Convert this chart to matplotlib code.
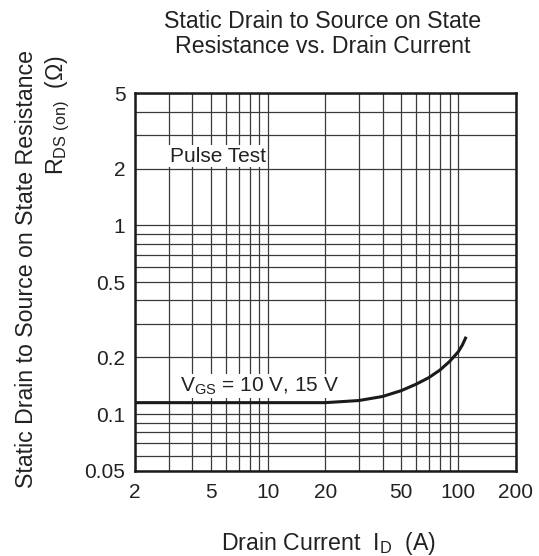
import numpy as np
import matplotlib
matplotlib.use("Agg")
import matplotlib.pyplot as plt
from matplotlib.ticker import FixedLocator, FixedFormatter, LogLocator, NullFormatter

plt.rcParams['font.family'] = ['Liberation Sans', 'DejaVu Sans']
plt.rcParams['mathtext.fontset'] = 'custom'
plt.rcParams['mathtext.rm'] = 'Liberation Sans'

# curve
drain_current = [2, 5, 10, 20, 30, 40, 50, 60, 70, 80, 90, 100, 105, 110]
r_ds_on = [0.115, 0.115, 0.115, 0.115, 0.118, 0.124, 0.133, 0.144, 0.156,
           0.171, 0.19, 0.214, 0.232, 0.257]

x_ticks = [2, 5, 10, 20, 50, 100, 200]
x_labels = ['2', '5', '10', '20', '50', '100', '200']
y_ticks = [0.05, 0.1, 0.2, 0.5, 1, 2, 5]
y_labels = ['0.05', '0.1', '0.2', '0.5', '1', '2', '5']

txt = '#222222'
big = 16.7
fig = plt.figure(figsize=(5.39, 5.56), dpi=100)
ax = fig.add_axes([0.2505, 0.153, 0.706, 0.679])

ax.set_xscale('log')
ax.set_yscale('log')
ax.set_xlim(2, 200)
ax.set_ylim(0.05, 5)

ax.plot(drain_current, r_ds_on, color='#1a1a1a', lw=2.2, solid_capstyle='butt', zorder=4)

ax.xaxis.set_major_locator(FixedLocator(x_ticks))
ax.xaxis.set_major_formatter(FixedFormatter(x_labels))
ax.yaxis.set_major_locator(FixedLocator(y_ticks))
ax.yaxis.set_major_formatter(FixedFormatter(y_labels))
ax.xaxis.set_minor_locator(LogLocator(base=10, subs=np.arange(1, 10), numticks=20))
ax.yaxis.set_minor_locator(LogLocator(base=10, subs=np.arange(1, 10), numticks=20))
ax.xaxis.set_minor_formatter(NullFormatter())
ax.yaxis.set_minor_formatter(NullFormatter())
ax.grid(which='both', color='#3a3a3a', lw=0.9)
ax.tick_params(which='both', length=0, labelsize=15, colors=txt)
ax.tick_params(axis='x', pad=8.5)
ax.tick_params(axis='y', pad=7)

for s in ax.spines.values():
    s.set_linewidth(1.8)
    s.set_color('#1a1a1a')

box = dict(facecolor='white', edgecolor='none', pad=1)
ax.text(3.05, 2.17, 'Pulse Test', fontsize=15, color=txt, va='baseline', ha='left', bbox=box, zorder=3)
ax.text(3.45, 0.1315, r'$\mathregular{V_{GS}}$ = 10 V, 15 V', fontsize=15, color=txt,
        va='baseline', ha='left', bbox=box, zorder=3)

fig.text(0.598, 0.9496, 'Static Drain to Source on State', fontsize=big, color=txt, ha='center', va='baseline')
fig.text(0.598, 0.9047, 'Resistance vs. Drain Current', fontsize=big, color=txt, ha='center', va='baseline')
fig.text(0.6085, 0.0108, r'Drain Current  $\mathregular{I_D}$  (A)', fontsize=big, color=txt,
         ha='center', va='baseline')
fig.text(0.0612, 0.516, 'Static Drain to Source on State Resistance', fontsize=big, color=txt,
         ha='center', va='baseline', rotation=90, rotation_mode='anchor')
fig.text(0.1169, 0.793, r'$\mathregular{R_{DS\ (on)}}$  (Ω)', fontsize=big, color=txt,
         ha='center', va='baseline', rotation=90, rotation_mode='anchor')

fig.savefig('out.png', dpi=100)
